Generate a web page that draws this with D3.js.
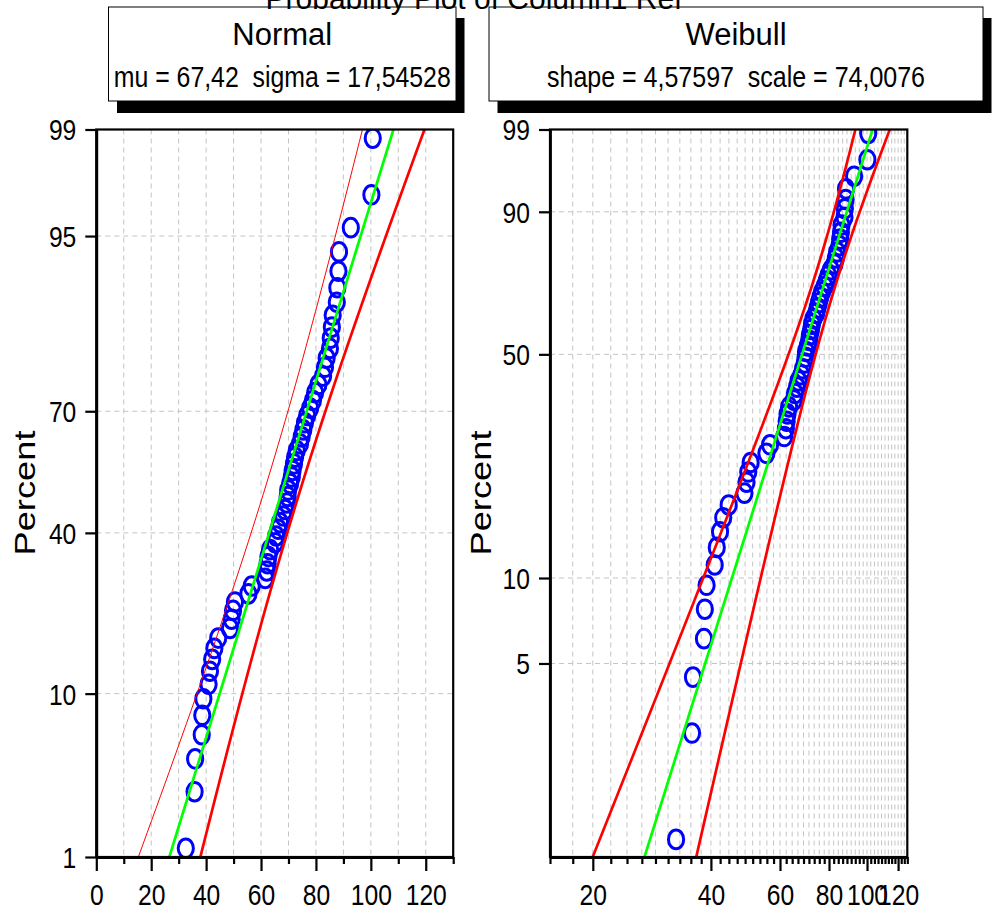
<!DOCTYPE html>
<html lang="en">
<head>
<meta charset="utf-8">
<title>Probability Plot</title>
<script src="https://cdn.jsdelivr.net/npm/d3@7"></script>
<style>
  body { margin: 0; background: #fff; }
  text { font-family: "Liberation Sans", Arial, sans-serif; fill: #000; }
</style>
</head>
<body>
<script>

// sorted sample (60 values)
var values = [32.6, 35.8, 36.0, 38.4, 38.6, 39.0, 40.9, 41.4, 42.2, 43.0,
  44.4, 48.7, 49.3, 49.8, 50.5, 55.4, 56.6, 61.5, 62.1, 62.4,
  62.7, 63.3, 65.1, 65.5, 66.3, 66.9, 68.1, 68.7, 69.4, 69.7,
  69.9, 70.6, 71.2, 71.5, 72.0, 72.4, 73.0, 74.2, 74.8, 75.4,
  76.0, 76.8, 77.9, 78.9, 79.7, 80.9, 82.6, 83.3, 83.9, 85.1,
  85.4, 85.8, 86.1, 87.6, 87.8, 88.2, 88.4, 92.7, 100.2, 100.7];

// fitted parameters (from the legend boxes)
var normalMu = 67.42, normalSigma = 17.54528;
var weibullShape = 4.57597, weibullScale = 74.0076;

// confidence band widths
var normalBand = [6.5, 3.97];            // half width = sqrt(a^2 + (b z)^2)
var weibullBand = [0.0047, 0.00365, 0.3]; // in ln(x): sqrt(A + B (w - w0)^2)

// tick labels
var normalYTicks = [1, 10, 40, 70, 95, 99];
var weibullYTicks = [5, 10, 50, 90, 99];
var normalXTicks = [0, 20, 40, 60, 80, 100, 120];
var weibullXTicks = [20, 40, 60, 80, 100, 120];

var title = "Probability Plot of Column1 Ref";

// inverse normal cdf (Acklam)
function qnorm(p) {
  var a = [-3.969683028665376e+01, 2.209460984245205e+02, -2.759285104469687e+02, 1.383577518672690e+02, -3.066479806614716e+01, 2.506628277459239e+00];
  var b = [-5.447609879822406e+01, 1.615858368580409e+02, -1.556989798598866e+02, 6.680131188771972e+01, -1.328068155288572e+01];
  var c = [-7.784894002430293e-03, -3.223964580411365e-01, -2.400758277161838e+00, -2.549732539343734e+00, 4.374664141464968e+00, 2.938163982698783e+00];
  var d = [7.784695709041462e-03, 3.224671290700398e-01, 2.445134137142996e+00, 3.754408661907416e+00];
  var pl = 0.02425, q, r;
  if (p < pl) {
    q = Math.sqrt(-2 * Math.log(p));
    return (((((c[0]*q+c[1])*q+c[2])*q+c[3])*q+c[4])*q+c[5]) / ((((d[0]*q+d[1])*q+d[2])*q+d[3])*q+1);
  }
  if (p > 1 - pl) {
    q = Math.sqrt(-2 * Math.log(1 - p));
    return -(((((c[0]*q+c[1])*q+c[2])*q+c[3])*q+c[4])*q+c[5]) / ((((d[0]*q+d[1])*q+d[2])*q+d[3])*q+1);
  }
  q = p - 0.5; r = q * q;
  return (((((a[0]*r+a[1])*r+a[2])*r+a[3])*r+a[4])*r+a[5])*q / (((((b[0]*r+b[1])*r+b[2])*r+b[3])*r+b[4])*r+1);
}
function wv(p) { return Math.log(-Math.log(1 - p)); }

var n = values.length;
var pos = values.map(function(v, i) { return (i + 1 - 0.3) / (n + 0.4); });

var W = 993, H = 914;
var plotTop = 129.5, plotBottom = 857;
var tickFont = 29, squeeze = 0.85;

var svg = d3.select("body").append("svg")
  .attr("width", W).attr("height", H);

// scales
var zMax = qnorm(0.99);
var xN = d3.scaleLinear().domain([0, 130]).range([96.3, 453.2]);
var yN = d3.scaleLinear().domain([-zMax, zMax]).range([plotBottom, plotTop]);
var xW = d3.scaleLog().domain([140 / 9, 1140 / 9]).range([550, 907.3]);
var yW = d3.scaleLinear().domain([wv(0.01), wv(0.99)]).range([plotBottom, plotTop]);

var weibullMinor = d3.range(7, 58).map(function(k) { return k * 20 / 9; });
function isMajorW(d) { return Math.abs(d / 20 - Math.round(d / 20)) < 1e-6; }

var defs = svg.append("defs");
[["clipN", xN], ["clipW", xW]].forEach(function(c) {
  var r = c[1].range();
  defs.append("clipPath").attr("id", c[0]).append("rect")
    .attr("x", r[0]).attr("y", plotTop).attr("width", r[1] - r[0]).attr("height", plotBottom - plotTop);
});

function grid(g, xs, ys, xScale, yScale) {
  var r = xScale.range();
  g.selectAll(".gx").data(xs).enter().append("line")
    .attr("x1", function(d) { return xScale(d); }).attr("x2", function(d) { return xScale(d); })
    .attr("y1", plotTop).attr("y2", plotBottom);
  g.selectAll(".gy").data(ys).enter().append("line")
    .attr("x1", r[0]).attr("x2", r[1])
    .attr("y1", function(d) { return yScale(d); }).attr("y2", function(d) { return yScale(d); });
  g.selectAll("line")
    .attr("stroke", "#c4c4c4").attr("stroke-width", 1).attr("stroke-dasharray", "5,4");
}

// ---------- normal panel ----------
var gN = svg.append("g");
grid(gN.append("g"), d3.range(10, 121, 10), [10, 40, 70, 95].map(function(p) { return qnorm(p / 100); }), xN, yN);

var plotN = gN.append("g").attr("clip-path", "url(#clipN)");
plotN.selectAll("ellipse").data(values).enter().append("ellipse")
  .attr("cx", function(d) { return xN(d); })
  .attr("cy", function(d, i) { return yN(qnorm(pos[i])); })
  .attr("rx", 7.6).attr("ry", 9.3)
  .attr("fill", "none").attr("stroke", "#0000ff").attr("stroke-width", 3);

var zs = d3.range(0, 61).map(function(i) { return -zMax + 2 * zMax * i / 60; });
function nHalf(z) { return Math.sqrt(normalBand[0] * normalBand[0] + normalBand[1] * normalBand[1] * z * z); }
var lineN = d3.line().x(function(d) { return xN(d[0]); }).y(function(d) { return yN(d[1]); });
plotN.append("path")
  .attr("d", lineN(zs.map(function(z) { return [normalMu + normalSigma * z - nHalf(z), z]; })))
  .attr("fill", "none").attr("stroke", "#ff0000").attr("stroke-width", 1);
plotN.append("path")
  .attr("d", lineN(zs.map(function(z) { return [normalMu + normalSigma * z + nHalf(z), z]; })))
  .attr("fill", "none").attr("stroke", "#ff0000").attr("stroke-width", 2.7);
plotN.append("path")
  .attr("d", lineN(zs.map(function(z) { return [normalMu + normalSigma * z, z]; })))
  .attr("fill", "none").attr("stroke", "#00ff00").attr("stroke-width", 2.7);

// ---------- weibull panel ----------
var gW = svg.append("g");
grid(gW.append("g"), weibullMinor.slice(1), [5, 10, 50, 90].map(function(p) { return wv(p / 100); }), xW, yW);

var plotW = gW.append("g").attr("clip-path", "url(#clipW)");
plotW.selectAll("ellipse").data(values).enter().append("ellipse")
  .attr("cx", function(d) { return xW(d); })
  .attr("cy", function(d, i) { return yW(wv(pos[i])); })
  .attr("rx", 7.6).attr("ry", 9.3)
  .attr("fill", "none").attr("stroke", "#0000ff").attr("stroke-width", 3);

var w0 = wv(0.01), w1 = wv(0.99);
var ws = d3.range(0, 61).map(function(i) { return w0 + (w1 - w0) * i / 60; });
function wHalf(w) { return Math.sqrt(weibullBand[0] + weibullBand[1] * (w - weibullBand[2]) * (w - weibullBand[2])); }
function wFit(w) { return Math.log(weibullScale) + w / weibullShape; }
var lineW = d3.line().x(function(d) { return xW(Math.exp(d[0])); }).y(function(d) { return yW(d[1]); });
[-1, 1].forEach(function(s) {
  plotW.append("path")
    .attr("d", lineW(ws.map(function(w) { return [wFit(w) + s * wHalf(w), w]; })))
    .attr("fill", "none").attr("stroke", "#ff0000").attr("stroke-width", 2.7);
});
plotW.append("path")
  .attr("d", lineW(ws.map(function(w) { return [wFit(w), w]; })))
  .attr("fill", "none").attr("stroke", "#00ff00").attr("stroke-width", 2.7);

// ---------- frames and axes ----------
function frame(xScale) {
  var r = xScale.range();
  svg.append("rect").attr("x", r[0]).attr("y", plotTop)
    .attr("width", r[1] - r[0]).attr("height", plotBottom - plotTop)
    .attr("fill", "none").attr("stroke", "#000").attr("stroke-width", 2.2);
}
frame(xN); frame(xW);

function styleAxis(g) {
  g.select(".domain").attr("stroke", "#000").attr("stroke-width", 2.8);
  g.selectAll(".tick line").attr("stroke", "#000").attr("stroke-width", 2.2);
  g.selectAll(".tick text").attr("font-size", tickFont).attr("font-family", null)
    .attr("transform", "scale(" + squeeze + ",1)");
}

var axYN = svg.append("g").attr("transform", "translate(" + xN.range()[0] + ",0)")
  .call(d3.axisLeft(yN)
    .tickValues(normalYTicks.map(function(p) { return qnorm(p / 100); }))
    .tickFormat(function(d, i) { return normalYTicks[i]; })
    .tickSize(11).tickSizeOuter(0));
styleAxis(axYN);
axYN.selectAll(".tick text").attr("x", -20 / squeeze).attr("dy", "0.36em");

var axYW = svg.append("g").attr("transform", "translate(" + xW.range()[0] + ",0)")
  .call(d3.axisLeft(yW)
    .tickValues(weibullYTicks.map(function(p) { return wv(p / 100); }))
    .tickFormat(function(d, i) { return weibullYTicks[i]; })
    .tickSize(11).tickSizeOuter(0));
styleAxis(axYW);
axYW.selectAll(".tick text").attr("x", -20 / squeeze).attr("dy", "0.36em");

var axXN = svg.append("g").attr("transform", "translate(0," + plotBottom + ")")
  .call(d3.axisBottom(xN)
    .tickValues(d3.range(0, 131, 10))
    .tickFormat(function(d) { return normalXTicks.indexOf(d) >= 0 ? d : ""; })
    .tickSize(14).tickSizeOuter(0));
styleAxis(axXN);
axXN.selectAll(".tick line").attr("y2", function(d) { return normalXTicks.indexOf(d) >= 0 ? 14 : 7; });
axXN.selectAll(".tick text").attr("y", 48).attr("dy", 0);

var axXW = svg.append("g").attr("transform", "translate(0," + plotBottom + ")")
  .call(d3.axisBottom(xW)
    .tickValues(weibullMinor)
    .tickFormat(function(d) {
      var v = Math.round(d);
      return isMajorW(d) && weibullXTicks.indexOf(v) >= 0 ? v : "";
    })
    .tickSize(14).tickSizeOuter(0));
styleAxis(axXW);
axXW.selectAll(".tick line").attr("y2", function(d) { return isMajorW(d) ? 14 : 7; });
axXW.selectAll(".tick text").attr("y", 48).attr("dy", 0);

// y titles
[[35, "Percent"], [490.5, "Percent"]].forEach(function(t) {
  svg.append("text")
    .attr("transform", "translate(" + t[0] + ",493) rotate(-90)")
    .attr("text-anchor", "middle")
    .attr("font-size", 30)
    .attr("textLength", 125).attr("lengthAdjust", "spacingAndGlyphs")
    .text(t[1]);
});

// ---------- legend boxes ----------
function legendBox(x, w, head, sub, subLen) {
  svg.append("rect").attr("x", x + 8.5).attr("y", 18).attr("width", w).attr("height", 95).attr("fill", "#000");
  svg.append("rect").attr("x", x).attr("y", 7).attr("width", w).attr("height", 94)
    .attr("fill", "#fff").attr("stroke", "#000").attr("stroke-width", 1);
  svg.append("text").attr("x", x + w / 2).attr("y", 45)
    .attr("text-anchor", "middle").attr("font-size", 31).text(head);
  svg.append("text").attr("x", x + w / 2).attr("y", 87)
    .attr("text-anchor", "middle").attr("font-size", 29)
    .style("white-space", "pre")
    .attr("textLength", subLen).attr("lengthAdjust", "spacingAndGlyphs")
    .text(sub);
}
legendBox(108.5, 347.5, "Normal", "mu = 67,42  sigma = 17,54528", 337);
legendBox(489, 494, "Weibull", "shape = 4,57597  scale = 74,0076", 378);

// title, half cut by the top edge
svg.append("text").attr("x", 474).attr("y", 9)
  .attr("text-anchor", "middle").attr("font-size", 30).text(title);

</script>
</body>
</html>
